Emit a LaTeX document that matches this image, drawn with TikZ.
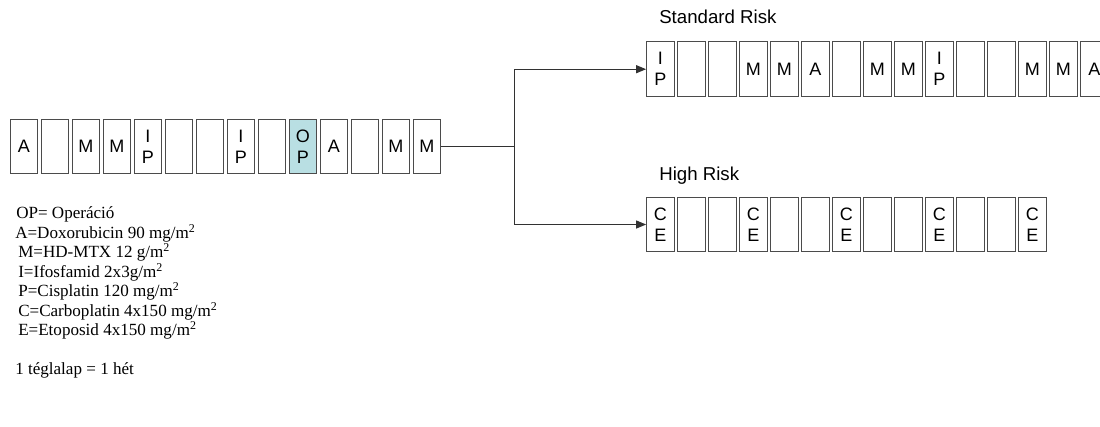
\documentclass[tikz,border=0pt]{standalone}
\usepackage{fontspec}
\setmainfont{Liberation Serif}
\newfontfamily\arialf{Liberation Sans}
\usetikzlibrary{arrows.meta}
\definecolor{boxline}{RGB}{75,75,75}
\definecolor{linec}{RGB}{50,50,50}
\definecolor{opfill}{RGB}{185,223,227}
\begin{document}
\begin{tikzpicture}[x=0.75pt,y=-0.75pt,
  wk/.style={draw=boxline,line width=0.8pt,minimum width=20.6pt,minimum height=41pt,inner sep=0pt,
    font=\arialf\fontsize{13.5}{15.75}\selectfont,align=center},
  conn/.style={draw=linec,line width=0.8pt},
  tip/.style={-{Triangle[length=7.5pt,width=6pt]}},
  lab/.style={font=\arialf\fontsize{14}{16}\selectfont,anchor=base west,inner sep=0pt},
  leg/.style={font=\fontsize{12.8}{14}\selectfont,anchor=base west,inner sep=0pt}]
\useasboundingbox (0,0) rectangle (1100,426);
% left row
\node[wk] (L0) at (23.8,146.6) {A};
\node[wk] (L1) at (54.8,146.6) {};
\node[wk] (L2) at (85.8,146.6) {M};
\node[wk] (L3) at (116.8,146.6) {M};
\node[wk] (L4) at (147.8,146.6) {I\\P};
\node[wk] (L5) at (178.8,146.6) {};
\node[wk] (L6) at (209.8,146.6) {};
\node[wk] (L7) at (240.8,146.6) {I\\P};
\node[wk] (L8) at (271.8,146.6) {};
\node[wk,fill=opfill] (L9) at (302.8,146.6) {O\\P};
\node[wk] (L10) at (333.8,146.6) {A};
\node[wk] (L11) at (364.8,146.6) {};
\node[wk] (L12) at (395.8,146.6) {M};
\node[wk] (L13) at (426.8,146.6) {M};
% standard risk row
\foreach \t [count=\i from 0] in {{I\\P},{},{},M,M,A,{},M,M,{I\\P},{},{},M,M,A}
  \node[wk] (T\i) at ({660.4+31*\i},69.2) {\t};
% high risk row
\foreach \t [count=\i from 0] in {{C\\E},{},{},{C\\E},{},{},{C\\E},{},{},{C\\E},{},{},{C\\E}}
  \node[wk] (B\i) at ({660.4+31*\i},224.5) {\t};
% labels
\node[lab] (std) at (659,23.3) {Standard Risk};
\node[lab] (high) at (659,180) {High Risk};
% connectors
\coordinate (j) at (514.5,146.6);
\draw[conn] (L13.east) -- (j);
\draw[conn,tip] (j) |- (T0.west);
\draw[conn,tip] (j) |- (B0.west);
% legend
\node[leg] (g1) at (16,218.5) {OP= Operáció};
\node[leg] (g2) at (15,238) {A=Doxorubicin 90 mg/m\textsuperscript{2}};
\node[leg] (g3) at (18,257.5) {M=HD-MTX 12 g/m\textsuperscript{2}};
\node[leg] (g4) at (18,277) {I=Ifosfamid 2x3g/m\textsuperscript{2}};
\node[leg] (g5) at (18,296.5) {P=Cisplatin 120 mg/m\textsuperscript{2}};
\node[leg] (g6) at (18,316) {C=Carboplatin 4x150 mg/m\textsuperscript{2}};
\node[leg] (g7) at (18,335.5) {E=Etoposid 4x150 mg/m\textsuperscript{2}};
\node[leg] (g8) at (15,374.5) {1 téglalap = 1 hét};
\end{tikzpicture}
\end{document}
